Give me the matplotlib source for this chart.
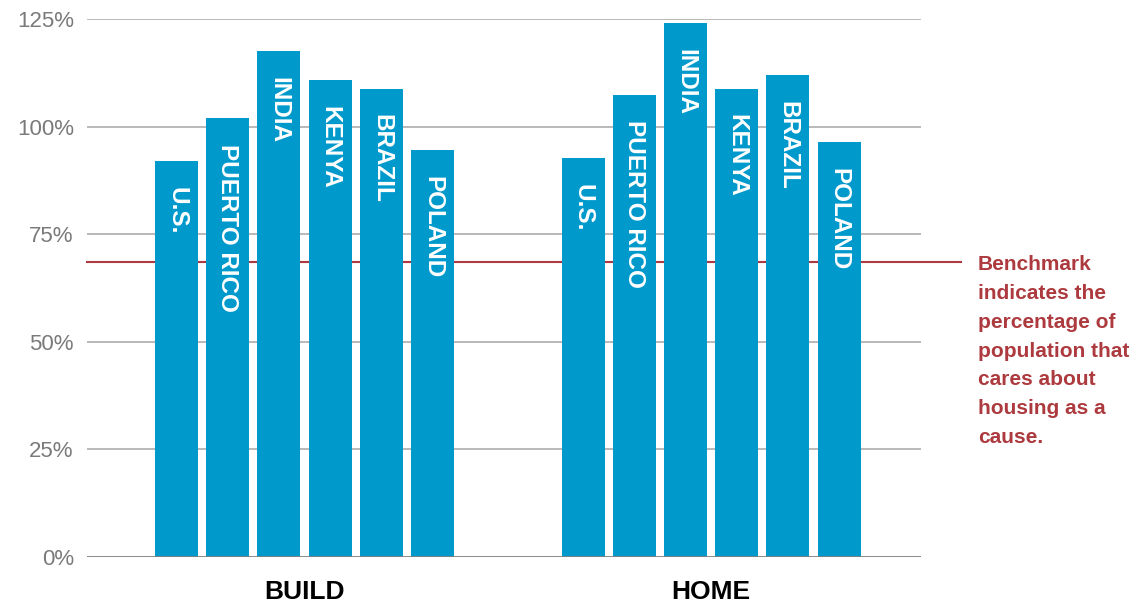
import numpy as np
import matplotlib
matplotlib.use('Agg')
import matplotlib.pyplot as plt

plt.rcParams['font.family'] = ['Liberation Sans', 'DejaVu Sans']

groups = ['BUILD', 'HOME']
countries = ['U.S.', 'PUERTO RICO', 'INDIA', 'KENYA', 'BRAZIL', 'POLAND']
build = [92.0, 102.0, 117.6, 110.8, 108.8, 94.6]
home = [92.7, 107.4, 124.1, 108.8, 112.0, 96.4]
benchmark = 68.6
yticks = [0, 25, 50, 75, 100, 125]
note = 'Benchmark\nindicates the\npercentage of\npopulation that\ncares about\nhousing as a\ncause.'

bar_color = '#0099cc'
red = '#ad3a3e'

fig = plt.figure(figsize=(11.46, 6.04), dpi=100)
ax = fig.add_axes([0.0759, 0.0778, 0.7278, 0.8907])

offsets = [0, 7.94]
for g, vals, off in zip(groups, [build, home], offsets):
    xs = np.arange(len(vals)) + off
    ax.bar(xs, vals, width=0.84, color=bar_color, zorder=3)
    for x, v, name in zip(xs, vals, countries):
        ax.annotate(name, (x, v), xytext=(0, -18.5), textcoords='offset points',
                    rotation=-90, ha='center', va='top', color='white',
                    fontsize=17.5, fontweight='bold', zorder=4)
    ax.text(off + 2.5, -5.3, g, ha='center', va='top', fontsize=19,
            fontweight='bold', color='black')

ax.set_xlim(-1.75, 14.54)
ax.set_ylim(0, 125)
ax.set_yticks(yticks)
ax.set_yticklabels([f'{t}%' for t in yticks])
ax.tick_params(axis='y', length=0, pad=9.5, labelsize=16, labelcolor='#7a7a7a')
ax.set_xticks([])
for s in ax.spines.values():
    s.set_visible(False)

for t in yticks[1:]:
    ax.axhline(t, color='#b3b3b3', lw=1.3, zorder=1)
ax.axhline(0, color='#808080', lw=2, zorder=5)

ax.plot([0, 1.048], [benchmark, benchmark], color=red, lw=1.5,
        transform=ax.get_yaxis_transform(), clip_on=False, zorder=2)
ax.text(1.068, benchmark + 1.6, note, transform=ax.get_yaxis_transform(),
        ha='left', va='top', color=red, fontsize=15, fontweight='bold',
        linespacing=1.66)

fig.savefig('out.png', dpi=100)
